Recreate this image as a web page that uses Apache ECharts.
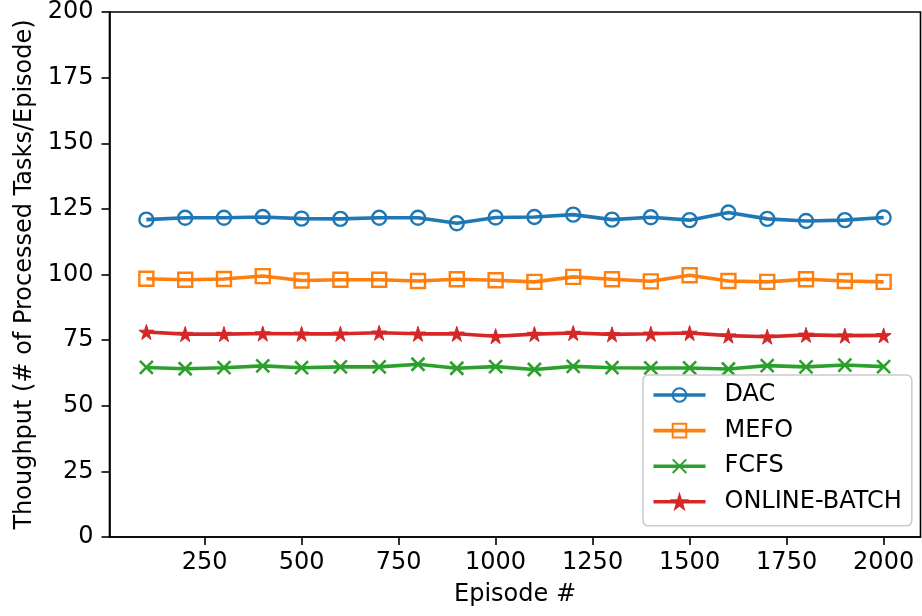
<!DOCTYPE html>
<html>
<head>
<meta charset="utf-8">
<script src="https://cdn.jsdelivr.net/npm/echarts@6/dist/echarts.min.js"></script>
<style>
html,body{margin:0;padding:0;background:#fff;}
#chart{width:922px;height:616px;}
</style>
</head>
<body>
<div id="chart"></div>
<script>
const episodes = [100, 200, 300, 400, 500, 600, 700, 800, 900, 1000, 1100, 1200, 1300, 1400, 1500, 1600, 1700, 1800, 1900, 2000];
const dac = [120.9, 121.6, 121.6, 121.9, 121.3, 121.2, 121.6, 121.6, 119.5, 121.7, 121.9, 122.8, 120.9, 121.8, 120.7, 123.6, 121.2, 120.4, 120.7, 121.7];
const mefo = [98.4, 98.0, 98.3, 99.4, 97.7, 98.0, 98.0, 97.5, 98.2, 97.8, 97.2, 99.1, 98.2, 97.4, 99.7, 97.5, 97.2, 98.2, 97.5, 97.2];
const fcfs = [64.6, 64.1, 64.5, 65.2, 64.5, 64.8, 64.8, 65.8, 64.3, 64.9, 63.8, 65.0, 64.5, 64.4, 64.4, 64.0, 65.3, 64.8, 65.5, 64.9];
const onlineBatch = [78.1, 77.3, 77.3, 77.5, 77.4, 77.4, 77.8, 77.4, 77.4, 76.5, 77.3, 77.7, 77.2, 77.4, 77.7, 76.7, 76.3, 77.0, 76.7, 76.8];
const xTicks = [250, 500, 750, 1000, 1250, 1500, 1750, 2000];
const seriesNames = ['DAC', 'MEFO', 'FCFS', 'ONLINE-BATCH'];
const colors = ['#1f77b4', '#ff7f0e', '#2ca02c', '#d62728'];

const FONT = 'DejaVu Sans';
const FS = 24;
const starPath = 'path://M10,0L12.245,6.910L19.511,6.910L13.633,11.180L15.878,18.090L10,13.820L4.122,18.090L6.367,11.180L0.489,6.910L7.755,6.910Z';
const xPath = 'path://M0,0L10,10M10,0L0,10';

function pairs(ys){ return episodes.map((x,i)=>[x, ys[i]]); }

const chart = echarts.init(document.getElementById('chart'), null, {renderer:'canvas'});
const mk = (name, data, color, symbol, size, fill, bw) => ({
  name, type:'line', data: pairs(data), symbol, symbolSize: size,
  showSymbol:true, animation:false,
  lineStyle:{color, width:3.6},
  itemStyle:{color: fill, borderColor: color, borderWidth: bw},
  emphasis:{disabled:true}
});
chart.setOption({
  animation:false,
  backgroundColor:'#fff',
  grid:{left:109.5, right:1.5, top:9, bottom:79, show:true, borderColor:'#000', borderWidth:1.6, backgroundColor:'transparent'},
  xAxis:{
    type:'value', min:5, max:2095,
    name:'Episode #', nameLocation:'middle', nameGap:46,
    nameTextStyle:{fontFamily:FONT, fontSize:FS, color:'#000'},
    axisLine:{show:true, onZero:false, lineStyle:{color:'#000', width:1.6}},
    axisTick:{show:true, length:8, lineStyle:{color:'#000', width:1.6}, customValues: xTicks},
    axisLabel:{fontFamily:FONT, fontSize:FS, color:'#000', margin:14, customValues: xTicks, formatter: v => String(v)},
    splitLine:{show:false}
  },
  yAxis:{
    type:'value', min:0, max:200, interval:25,
    name:'Thoughput (# of Processed Tasks/Episode)', nameLocation:'middle', nameGap:73,
    nameTextStyle:{fontFamily:FONT, fontSize:FS, color:'#000'},
    axisLine:{show:true, lineStyle:{color:'#000', width:1.6}},
    axisTick:{show:true, length:8, lineStyle:{color:'#000', width:1.6}},
    axisLabel:{fontFamily:FONT, fontSize:FS, color:'#000', margin:16, formatter: v => String(v)},
    splitLine:{show:false}
  },
  legend:{
    orient:'vertical', left:643, top:375,
    data: seriesNames,
    itemWidth:52, itemHeight:17, itemGap:11.6,
    padding:[8, 10, 12, 8.7],
    lineStyle:{width:3.6},
    backgroundColor:'rgba(255,255,255,0.8)', borderColor:'#cccccc', borderWidth:1.6, borderRadius:5,
    textStyle:{fontFamily:FONT, fontSize:FS, color:'#000', lineHeight:FS, padding:[0,0,0,14]}
  },
  series:[
    mk(seriesNames[0], dac, colors[0], 'circle', 14, 'rgba(0,0,0,0)', 2.4),
    mk(seriesNames[1], mefo, colors[1], 'rect', 14, 'rgba(0,0,0,0)', 2.4),
    mk(seriesNames[2], fcfs, colors[2], xPath, 13, 'rgba(0,0,0,0)', 2.6),
    mk(seriesNames[3], onlineBatch, colors[3], starPath, 15, colors[3], 1)
  ]
});
</script>
</body>
</html>
